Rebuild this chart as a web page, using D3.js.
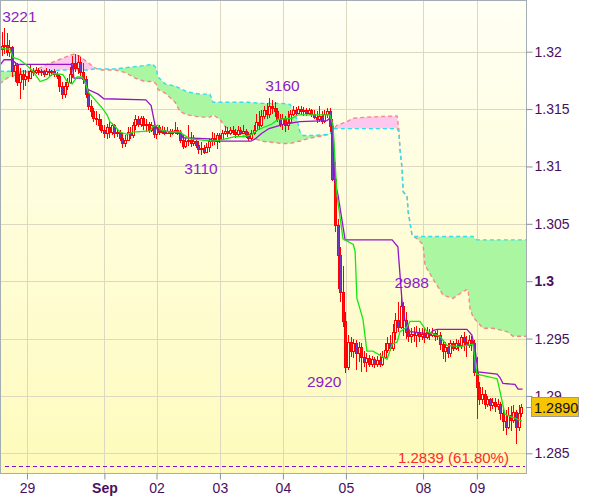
<!DOCTYPE html>
<html><head><meta charset="utf-8">
<script src="https://cdn.jsdelivr.net/npm/d3@7"></script>
<style>body{margin:0;background:#fff;}svg{display:block;font-family:"Liberation Sans",Arial,sans-serif;}</style>
</head><body>
<svg id="chart" width="600" height="497"></svg>
<script>
// ---- data (hourly bars, index 0..198) ----
const openP = [
1.3202,1.3205,1.3206,1.3200,1.3204,1.3183,1.3188,1.3174,1.3181,1.3176,
1.3179,1.3177,1.3183,1.3182,1.3184,1.3182,1.3183,1.3181,1.3183,1.3182,
1.3183,1.3181,1.3179,1.3170,1.3163,1.3170,1.3174,1.3181,1.3190,1.3186,
1.3191,1.3182,1.3176,1.3163,1.3153,1.3148,1.3142,1.3141,1.3136,1.3132,
1.3129,1.3134,1.3130,1.3136,1.3129,1.3130,1.3125,1.3120,1.3123,1.3130,
1.3127,1.3136,1.3141,1.3137,1.3142,1.3136,1.3137,1.3132,1.3136,1.3128,
1.3134,1.3130,1.3132,1.3129,1.3131,1.3129,1.3130,1.3132,1.3129,1.3123,
1.3118,1.3122,1.3123,1.3120,1.3122,1.3119,1.3115,1.3116,1.3113,1.3117,
1.3122,1.3125,1.3122,1.3127,1.3124,1.3129,1.3131,1.3129,1.3132,1.3130,
1.3128,1.3132,1.3129,1.3131,1.3128,1.3125,1.3129,1.3132,1.3139,1.3136,
1.3144,1.3149,1.3146,1.3153,1.3151,1.3148,1.3141,1.3137,1.3142,1.3136,
1.3139,1.3146,1.3149,1.3147,1.3150,1.3148,1.3149,1.3147,1.3149,1.3146,
1.3143,1.3141,1.3144,1.3140,1.3146,1.3148,1.3135,1.3089,1.3049,1.3023,
1.2991,1.2965,1.2925,1.2947,1.2939,1.2946,1.2937,1.2943,1.2934,1.2930,
1.2933,1.2928,1.2932,1.2928,1.2931,1.2928,1.2934,1.2940,1.2946,1.2942,
1.2956,1.2966,1.2960,1.2978,1.2966,1.2956,1.2952,1.2954,1.2953,1.2956,
1.2952,1.2954,1.2951,1.2956,1.2953,1.2955,1.2952,1.2953,1.2945,1.2939,
1.2943,1.2937,1.2946,1.2942,1.2946,1.2944,1.2951,1.2947,1.2944,1.2949,
1.2946,1.2921,1.2908,1.2897,1.2902,1.2893,1.2897,1.2892,1.2895,1.2891,
1.2893,1.2885,1.2878,1.2873,1.2883,1.2879,1.2886,1.2873,1.2885];
const highP = [
1.3217,1.3221,1.3216,1.3210,1.3205,1.3191,1.3190,1.3186,1.3184,1.3184,
1.3183,1.3189,1.3186,1.3187,1.3186,1.3185,1.3184,1.3186,1.3185,1.3184,
1.3185,1.3182,1.3181,1.3174,1.3174,1.3177,1.3187,1.3196,1.3198,1.3197,
1.3195,1.3190,1.3179,1.3167,1.3158,1.3151,1.3148,1.3146,1.3141,1.3136,
1.3137,1.3139,1.3138,1.3137,1.3133,1.3132,1.3129,1.3127,1.3134,1.3134,
1.3139,1.3145,1.3144,1.3144,1.3144,1.3141,1.3139,1.3139,1.3137,1.3136,
1.3136,1.3135,1.3134,1.3134,1.3133,1.3133,1.3139,1.3134,1.3132,1.3127,
1.3125,1.3136,1.3130,1.3127,1.3125,1.3122,1.3121,1.3119,1.3120,1.3125,
1.3130,1.3129,1.3129,1.3129,1.3132,1.3135,1.3134,1.3134,1.3135,1.3133,
1.3135,1.3134,1.3136,1.3133,1.3130,1.3132,1.3136,1.3146,1.3148,1.3149,
1.3153,1.3155,1.3160,1.3158,1.3156,1.3151,1.3146,1.3146,1.3144,1.3148,
1.3149,1.3153,1.3152,1.3153,1.3153,1.3152,1.3151,1.3151,1.3150,1.3149,
1.3148,1.3153,1.3148,1.3149,1.3151,1.3151,1.3141,1.3104,1.3054,1.3030,
1.3013,1.2973,1.2953,1.2951,1.2950,1.2949,1.2947,1.2946,1.2939,1.2937,
1.2936,1.2935,1.2934,1.2935,1.2937,1.2939,1.2946,1.2951,1.2953,1.2963,
1.2972,1.2982,1.2988,1.2982,1.2973,1.2963,1.2959,1.2960,1.2961,1.2959,
1.2959,1.2959,1.2960,1.2958,1.2959,1.2957,1.2958,1.2956,1.2949,1.2947,
1.2946,1.2949,1.2948,1.2950,1.2949,1.2953,1.2956,1.2952,1.2953,1.2952,
1.2949,1.2934,1.2912,1.2908,1.2905,1.2900,1.2898,1.2898,1.2898,1.2897,
1.2895,1.2891,1.2888,1.2890,1.2891,1.2892,1.2888,1.2892,1.2893];
const lowP = [
1.3196,1.3198,1.3196,1.3195,1.3178,1.3174,1.3170,1.3159,1.3167,1.3170,
1.3174,1.3176,1.3179,1.3181,1.3180,1.3179,1.3178,1.3180,1.3179,1.3179,
1.3178,1.3176,1.3165,1.3159,1.3160,1.3167,1.3172,1.3177,1.3182,1.3181,
1.3179,1.3172,1.3160,1.3149,1.3143,1.3139,1.3136,1.3132,1.3129,1.3125,
1.3124,1.3125,1.3127,1.3125,1.3126,1.3122,1.3116,1.3117,1.3122,1.3124,
1.3125,1.3132,1.3134,1.3134,1.3132,1.3130,1.3129,1.3130,1.3125,1.3124,
1.3127,1.3128,1.3127,1.3128,1.3126,1.3127,1.3128,1.3127,1.3120,1.3115,
1.3116,1.3118,1.3117,1.3118,1.3116,1.3111,1.3110,1.3111,1.3112,1.3113,
1.3118,1.3119,1.3115,1.3120,1.3123,1.3127,1.3126,1.3127,1.3127,1.3125,
1.3126,1.3127,1.3128,1.3125,1.3122,1.3123,1.3127,1.3130,1.3132,1.3134,
1.3141,1.3141,1.3142,1.3146,1.3143,1.3139,1.3134,1.3132,1.3130,1.3132,
1.3137,1.3144,1.3144,1.3146,1.3145,1.3144,1.3144,1.3145,1.3143,1.3141,
1.3138,1.3139,1.3137,1.3138,1.3142,1.3130,1.3087,1.3043,1.2993,1.2982,
1.2960,1.2920,1.2923,1.2934,1.2933,1.2923,1.2930,1.2921,1.2925,1.2921,
1.2925,1.2925,1.2924,1.2925,1.2925,1.2926,1.2932,1.2937,1.2939,1.2939,
1.2949,1.2956,1.2958,1.2952,1.2950,1.2947,1.2946,1.2947,1.2943,1.2947,
1.2949,1.2946,1.2950,1.2949,1.2951,1.2948,1.2949,1.2940,1.2932,1.2930,
1.2933,1.2934,1.2939,1.2940,1.2939,1.2941,1.2939,1.2934,1.2942,1.2939,
1.2917,1.2880,1.2892,1.2893,1.2889,1.2890,1.2887,1.2889,1.2886,1.2888,
1.2879,1.2869,1.2866,1.2871,1.2869,1.2876,1.2858,1.2869,1.2882];
const closeP = [
1.3205,1.3206,1.3200,1.3204,1.3183,1.3188,1.3174,1.3181,1.3176,1.3179,
1.3177,1.3183,1.3182,1.3184,1.3182,1.3183,1.3181,1.3183,1.3182,1.3183,
1.3181,1.3179,1.3170,1.3163,1.3170,1.3174,1.3181,1.3190,1.3186,1.3191,
1.3182,1.3176,1.3163,1.3153,1.3148,1.3142,1.3141,1.3136,1.3132,1.3129,
1.3134,1.3130,1.3136,1.3129,1.3130,1.3125,1.3120,1.3123,1.3130,1.3127,
1.3136,1.3141,1.3137,1.3142,1.3136,1.3137,1.3132,1.3136,1.3128,1.3134,
1.3130,1.3132,1.3129,1.3131,1.3129,1.3130,1.3132,1.3129,1.3123,1.3118,
1.3122,1.3123,1.3120,1.3122,1.3119,1.3115,1.3116,1.3113,1.3117,1.3122,
1.3125,1.3122,1.3127,1.3124,1.3129,1.3131,1.3129,1.3132,1.3130,1.3128,
1.3132,1.3129,1.3131,1.3128,1.3125,1.3129,1.3132,1.3139,1.3136,1.3144,
1.3149,1.3146,1.3153,1.3151,1.3148,1.3141,1.3137,1.3142,1.3136,1.3139,
1.3146,1.3149,1.3147,1.3150,1.3148,1.3149,1.3147,1.3149,1.3146,1.3143,
1.3141,1.3144,1.3140,1.3146,1.3148,1.3135,1.3089,1.3049,1.3023,1.2991,
1.2965,1.2925,1.2947,1.2939,1.2946,1.2937,1.2943,1.2934,1.2930,1.2933,
1.2928,1.2932,1.2928,1.2931,1.2928,1.2934,1.2940,1.2946,1.2942,1.2956,
1.2966,1.2960,1.2978,1.2966,1.2956,1.2952,1.2954,1.2953,1.2956,1.2952,
1.2954,1.2951,1.2956,1.2953,1.2955,1.2952,1.2953,1.2945,1.2939,1.2943,
1.2937,1.2946,1.2942,1.2946,1.2944,1.2951,1.2947,1.2944,1.2949,1.2946,
1.2921,1.2908,1.2897,1.2902,1.2893,1.2897,1.2892,1.2895,1.2891,1.2893,
1.2885,1.2878,1.2873,1.2883,1.2879,1.2886,1.2873,1.2885,1.2890];

// Tenkan-sen (green)
const tenkanIdx = [-0.6,3.2,4.4,7,9.7,12,14.7,17.3,19.6,23.4,25,26.9,28.8,30.7,31.8,33,36.4,38.7,40.2,41.3,43.2,45.1,47.8,50.1,56.6,57.7,59.6,60.4,64.2,68,69.1,71.8,80.6,83.2,88.9,92.8,95.4,97.7,103,105.3,110.7,113,125.1,126.3,127.8,130.1,134,134.7,135.4,137.7,139.2,141.5,146.9,148.8,150.7,151.8,154.5,155.6,159.4,162.1,167,169.7,174.7,179.6,181.1,188.8,189.9,191.8,198.3];
const tenkanVal = [1.3203,1.3202,1.3195,1.3193,1.3188,1.3183,1.3174,1.3176,1.3181,1.3180,1.3174,1.3172,1.3178,1.3178,1.3174,1.3165,1.3156,1.3150,1.3145,1.3139,1.3135,1.3130,1.3128,1.3130,1.3131,1.3135,1.3136,1.3132,1.3130,1.3130,1.3128,1.3124,1.3122,1.3123,1.3126,1.3126,1.3128,1.3132,1.3137,1.3141,1.3142,1.3145,1.3145,1.3136,1.3075,1.3037,1.3032,1.3026,1.2985,1.2967,1.2939,1.2939,1.2932,1.2945,1.2947,1.2956,1.2960,1.2965,1.2965,1.2956,1.2952,1.2944,1.2943,1.2945,1.2919,1.2915,1.2904,1.2884,1.2878];

// Kijun-sen (purple)
const kijunIdx = [-0.6,1,4,5.9,26.9,27.6,31,33,36.8,39,55,57,58.5,59.6,68.4,69.1,79.4,81,95,96.6,99.2,101.9,108,113.7,124,125.1,126.3,127,128.2,130.9,148.8,151,152.6,153.7,155.6,163.2,164.4,165.9,177.3,179.2,180.4,181.5,188.8,189.9,191,195.6,196.8,198.5];
const kijunVal = [1.3188,1.3193,1.3193,1.3189,1.3189,1.3177,1.3177,1.3167,1.3163,1.3159,1.3158,1.3153,1.3136,1.3131,1.3130,1.3125,1.3124,1.3122,1.3122,1.3124,1.3129,1.3133,1.3137,1.3139,1.3140,1.3142,1.3133,1.3087,1.3075,1.3036,1.3036,1.3030,1.2982,1.2966,1.2956,1.2954,1.2957,1.2958,1.2958,1.2953,1.2941,1.2921,1.2919,1.2916,1.2911,1.2910,1.2906,1.2906];

// Senkou span A / B (cloud)
const cloudIdx = [-0.6,2.1,7,12.8,16.6,18.5,23,26.1,28,29.9,32.6,35.6,37.5,43.2,47,50.9,54.7,57.7,58.9,59.6,62.3,66.1,68,70.7,75.6,79.4,80.6,83.2,85.1,88.9,93.9,99.2,106.9,109.9,111.8,113,113.7,114.9,118.3,125.1,126.3,127.8,131.6,133.9,139.2,150.7,151.4,151.8,152.6,153,154.5,154.9,156.4,156.8,158.3,160.6,161.3,164.4,168.2,172,175.8,177.7,178.5,179.6,181.1,183.4,187.2,192.6,194.9,199.8];
const senkouA = [
1.3183,1.3183,1.3183,1.3183,1.3183,1.3183,1.3184,1.3184,1.3184,1.3184,
1.3184,1.3185,1.3185,1.3185,1.3186,1.3187,1.3188,1.3189,1.3186,1.3178,
1.3172,1.3170,1.3168,1.3165,1.3163,1.3163,1.3156,1.3156,1.3156,1.3156,
1.3156,1.3155,1.3155,1.3154,1.3146,1.3137,1.3130,1.3127,1.3127,1.3128,
1.3133,1.3133,1.3133,1.3133,1.3133,1.3133,1.3130,1.3115,1.3098,1.3078,
1.3074,1.3061,1.3040,1.3039,1.3039,1.3039,1.3039,1.3039,1.3039,1.3039,
1.3039,1.3039,1.3039,1.3039,1.3036,1.3036,1.3036,1.3036,1.3036,1.3036];
const senkouB = [
1.3172,1.3177,1.3181,1.3184,1.3188,1.3190,1.3194,1.3197,1.3198,1.3196,
1.3191,1.3186,1.3184,1.3184,1.3182,1.3177,1.3174,1.3174,1.3172,1.3167,
1.3164,1.3156,1.3148,1.3145,1.3143,1.3143,1.3145,1.3141,1.3135,1.3129,
1.3126,1.3122,1.3120,1.3120,1.3121,1.3122,1.3122,1.3123,1.3125,1.3128,
1.3132,1.3136,1.3139,1.3142,1.3143,1.3144,1.3132,1.3115,1.3098,1.3078,
1.3074,1.3061,1.3040,1.3039,1.3037,1.3032,1.3014,1.3002,1.2988,1.2985,
1.2991,1.2993,1.2976,1.2969,1.2965,1.2959,1.2959,1.2956,1.2952,1.2952];

const dayLabels = ["29","Sep","02","03","04","05","08","09"];
const dayIdx = [9.7,39.2,59.05,83.2,107.2,131.2,160.6,181.1];
const priceTicks = [1.285,1.29,1.295,1.3,1.305,1.31,1.315,1.32];
const swingLabels = ["3221","3110","3160","2920","2988"];
const swingIdx = [1,76,102,131,152];
const swingVal = [1.3221,1.3110,1.3160,1.2920,1.2988];
const fibLevel = 1.2839;
const fibText = "1.2839 (61.80%)";
const lastPrice = 1.2890;

// ---- layout ----
const W = 600, H = 497;
const plot = {left:0, top:0, right:526, bottom:473};
const svg = d3.select("#chart");
const x = d3.scaleLinear().domain([0,200]).range([1.5,526.5]);
const y = d3.scaleLinear().domain([1.285,1.32]).range([453.3,51.7]);

const defs = svg.append("defs");
const grad = defs.append("linearGradient").attr("id","bg").attr("x1",0).attr("y1",0).attr("x2",0).attr("y2",1);
grad.append("stop").attr("offset","0%").attr("stop-color","#fffff4");
grad.append("stop").attr("offset","100%").attr("stop-color","#fefbbc");
defs.append("clipPath").attr("id","plotclip").append("rect")
  .attr("x",plot.left).attr("y",plot.top).attr("width",plot.right-plot.left).attr("height",plot.bottom-plot.top);

svg.append("rect").attr("width",W).attr("height",H).attr("fill","#fff");
svg.append("rect").attr("x",plot.left).attr("y",plot.top)
  .attr("width",plot.right-plot.left).attr("height",plot.bottom-plot.top).attr("fill","url(#bg)");

const g = svg.append("g").attr("clip-path","url(#plotclip)");

// grid
const gridColor = "#ddd9c0";
g.selectAll("line.hg").data(priceTicks).join("line")
  .attr("x1",plot.left).attr("x2",plot.right)
  .attr("y1",d=>Math.round(y(d))+0.5).attr("y2",d=>Math.round(y(d))+0.5)
  .attr("stroke",gridColor).attr("stroke-width",1);
g.selectAll("line.vg").data(dayIdx).join("line")
  .attr("y1",plot.top).attr("y2",plot.bottom)
  .attr("x1",d=>Math.round(x(d))+0.5).attr("x2",d=>Math.round(x(d))+0.5)
  .attr("stroke",gridColor).attr("stroke-width",1);

// cloud
const cloud = cloudIdx.map((i,k)=>({i, a:senkouA[k], b:senkouB[k]}));
const band = d3.area().x(d=>x(d.i)).y0(d=>y(d.a)).y1(d=>y(d.b));
defs.append("clipPath").attr("id","aboveA").append("path")
  .attr("d", d3.area().x(d=>x(d.i)).y0(0).y1(d=>y(d.a))(cloud));
defs.append("clipPath").attr("id","belowA").append("path")
  .attr("d", d3.area().x(d=>x(d.i)).y0(H).y1(d=>y(d.a))(cloud));
g.append("g").attr("clip-path","url(#belowA)").append("path")
  .attr("d",band(cloud)).attr("fill","#abf6a0");
g.append("g").attr("clip-path","url(#aboveA)").append("path")
  .attr("d",band(cloud)).attr("fill","#ffc6ee");
const lineA = d3.line().x(d=>x(d.i)).y(d=>y(d.a));
const lineB = d3.line().x(d=>x(d.i)).y(d=>y(d.b));
g.append("path").attr("d",lineB(cloud)).attr("fill","none")
  .attr("stroke","#f48a86").attr("stroke-width",1.4).attr("stroke-dasharray","4,3");
g.append("path").attr("d",lineA(cloud)).attr("fill","none")
  .attr("stroke","#2ee0ee").attr("stroke-width",1.4).attr("stroke-dasharray","4,3");

// candles
const bars = closeP.map((c,i)=>({i, o:openP[i], h:highP[i], l:lowP[i], c}));
const cx = i => Math.round(x(i)) + 0.5;
const cg = g.append("g");
cg.selectAll("line").data(bars).join("line")
  .attr("x1",d=>cx(d.i)).attr("x2",d=>cx(d.i))
  .attr("y1",d=>Math.round(y(d.h))).attr("y2",d=>Math.round(y(d.l)))
  .attr("stroke","#ff0000").attr("stroke-width",1);
cg.selectAll("rect").data(bars).join("rect")
  .attr("x",d=>cx(d.i)-1).attr("width",2)
  .attr("y",d=>Math.round(y(Math.max(d.o,d.c)))+0.5)
  .attr("height",d=>Math.max(0.01, Math.round(y(Math.min(d.o,d.c))) - Math.round(y(Math.max(d.o,d.c)))))
  .attr("fill",d=>d.c<d.o ? "#6a3cc4" : "#fffbe0")
  .attr("stroke","#ff0000").attr("stroke-width",1);

// kijun & tenkan
const kij = kijunIdx.map((i,k)=>({i, v:kijunVal[k]}));
const ten = tenkanIdx.map((i,k)=>({i, v:tenkanVal[k]}));
const ln = d3.line().x(d=>x(d.i)).y(d=>y(d.v));
g.append("path").attr("d",ln(kij)).attr("fill","none").attr("stroke","#9416c8").attr("stroke-width",1.3);
g.append("path").attr("d",ln(ten)).attr("fill","none").attr("stroke","#14e614").attr("stroke-width",1.3);

// fib level
g.append("line").attr("x1",5).attr("x2",plot.right-1)
  .attr("y1",Math.round(y(fibLevel))+0.5).attr("y2",Math.round(y(fibLevel))+0.5)
  .attr("stroke","#8a10d0").attr("stroke-width",1).attr("stroke-dasharray","4,3");
svg.append("text").attr("x",398).attr("y",Math.round(y(fibLevel))-3)
  .attr("text-anchor","start").attr("font-size",15).attr("fill","#ff2a2a").text(fibText);

// swing labels
const swingPos = [
  {dx:-2, dy:-6, anchor:"start"},
  {dx:0, dy:19, anchor:"middle"},
  {dx:-4, dy:-7, anchor:"start"},
  {dx:-4, dy:14, anchor:"end"},
  {dx:-6, dy:-7, anchor:"start"}
];
svg.append("g").selectAll("text").data(swingLabels).join("text")
  .attr("x",(d,k)=>x(swingIdx[k])+swingPos[k].dx)
  .attr("y",(d,k)=>y(swingVal[k])+swingPos[k].dy)
  .attr("text-anchor",(d,k)=>swingPos[k].anchor)
  .attr("font-size",15.5).attr("fill","#8a1ccc").text(d=>d);

// border
svg.append("rect").attr("x",plot.left+0.5).attr("y",plot.top+0.5)
  .attr("width",plot.right-plot.left).attr("height",plot.bottom-plot.top)
  .attr("fill","none").attr("stroke","#a4acb4").attr("stroke-width",1);

// right axis
const axisColor = "#4a0e5e";
const yAxis = svg.append("g").attr("transform",`translate(${plot.right+0.5},0)`)
  .call(d3.axisRight(y).tickValues(priceTicks).tickSize(6).tickPadding(2).tickFormat(d3.format("")));
yAxis.select(".domain").remove();
yAxis.selectAll(".tick line").attr("stroke","#8a8f96");
yAxis.selectAll(".tick text").attr("fill",axisColor).attr("font-size",14)
  .attr("font-family","Liberation Sans, Arial, sans-serif")
  .attr("font-weight",d=>d===1.3?"bold":"normal");

// bottom axis
const xAxis = svg.append("g").attr("transform",`translate(0,${plot.bottom+0.5})`)
  .call(d3.axisBottom(x).tickValues(dayIdx).tickSize(6).tickPadding(4).tickFormat((d,k)=>dayLabels[k]));
xAxis.select(".domain").remove();
xAxis.selectAll(".tick line").attr("stroke","#8a8f96");
xAxis.selectAll(".tick text").attr("fill",axisColor).attr("font-size",14)
  .attr("font-family","Liberation Sans, Arial, sans-serif")
  .attr("font-weight",(d,k)=>dayLabels[k]==="Sep"?"bold":"normal");

// last price box (covers the lower part of the 1.29 tick label, as in the original)
const ly = Math.round(y(lastPrice));
svg.append("line").attr("x1",plot.right).attr("x2",plot.right+6).attr("y1",ly+0.5).attr("y2",ly+0.5).attr("stroke","#8a8f96");
svg.append("rect").attr("x",531.5).attr("y",ly-9.5).attr("width",47).attr("height",19)
  .attr("fill","#f6c400").attr("stroke","#9a9a90").attr("stroke-width",1);
svg.append("text").attr("x",534).attr("y",ly+5.5).attr("font-size",14.5).attr("fill","#111")
  .text(d3.format(".4f")(lastPrice));
</script>
</body></html>
